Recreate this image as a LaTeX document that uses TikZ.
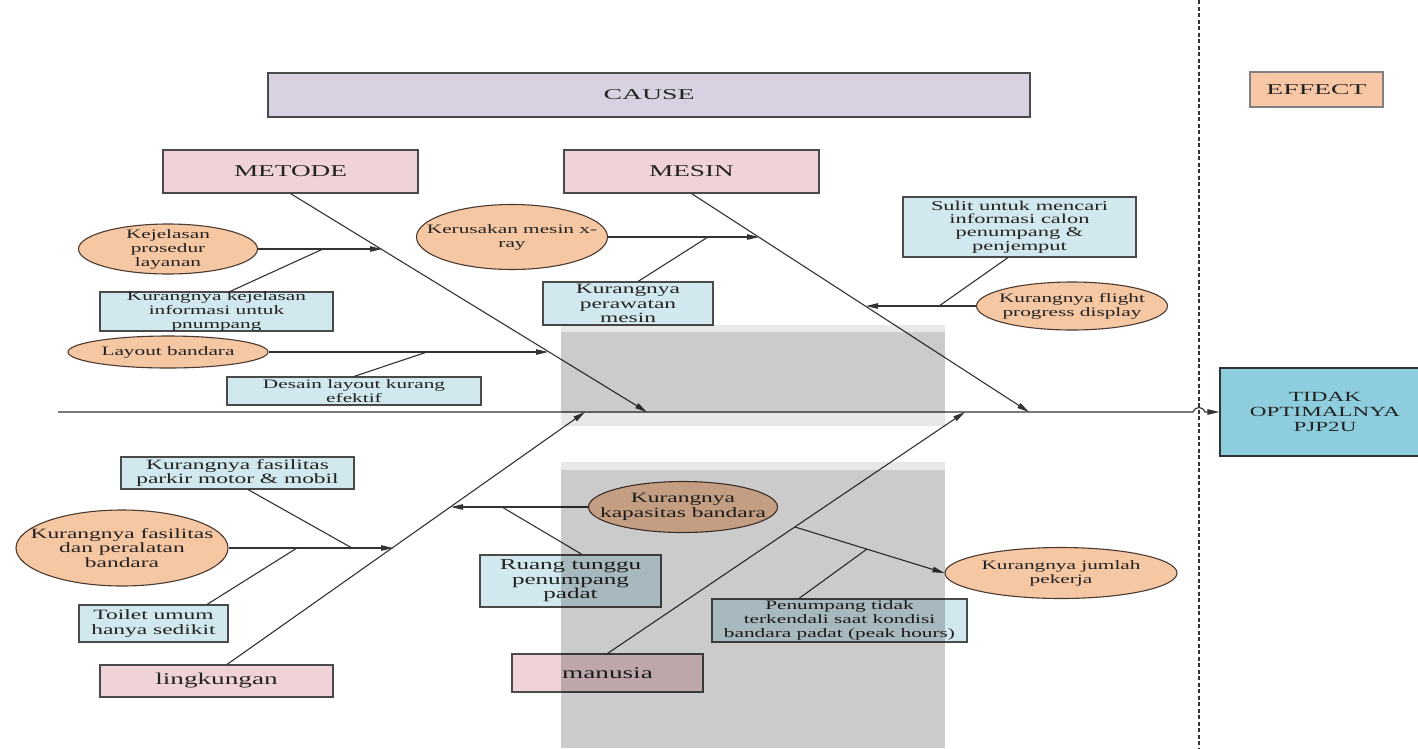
\documentclass[tikz,border=0pt]{standalone}
\usepackage{fontspec}
\usetikzlibrary{arrows.meta,shapes.geometric}
\newfontfamily\wf[FakeStretch=1.65]{Liberation Serif}
\newfontfamily\wfb[FakeStretch=1.85]{Liberation Serif}
\newcommand\fBig{\wf\fontsize{16.5}{19}\selectfont}
\newcommand\fHd{\wfb\fontsize{15}{17}\selectfont}
\newcommand\fS[2]{\wf\fontsize{#1}{#2}\selectfont}
\newcommand\fEf{\wf\fontsize{14}{14.6}\selectfont}
\definecolor{lav}{HTML}{D7D1E2}
\definecolor{pinkc}{HTML}{EFD3D7}
\definecolor{bluec}{HTML}{D2E8EF}
\definecolor{peach}{HTML}{F6C7A3}
\definecolor{effc}{HTML}{F8C8A6}
\definecolor{tidc}{HTML}{8ECDDD}
\definecolor{bord}{HTML}{4A4A4A}
\definecolor{ebord}{HTML}{4A3A30}
\definecolor{txtc}{HTML}{222222}
\definecolor{linec}{HTML}{333333}
\tikzset{
  shp/.style={draw=bord, line width=1.1pt, inner sep=0pt},
  cat/.style={shp, rectangle, fill=pinkc},
  bbox/.style={shp, rectangle, fill=bluec},
  ell/.style={shp, ellipse, draw=ebord, fill=peach},
  tx/.style={align=center, font=\fS{12.9}{14}, text=txtc, inner sep=0pt},
  txl/.style={tx, font=\fS{14.2}{14.6}},
  tb/.style={align=center, font=\fBig, text=txtc, inner sep=0pt},
  th/.style={align=center, font=\fHd, text=txtc, inner sep=0pt},
  te/.style={align=center, font=\fEf, text=txtc, inner sep=0pt},
  ln/.style={draw=linec, line width=1.1pt},
  arr/.style={ln, -{Triangle[length=12pt,width=5.5pt]}},
}
\begin{document}
\begin{tikzpicture}[x=1pt,y=-1pt]
\useasboundingbox (0,0) rectangle (1418,748);
\clip (0,0) rectangle (1418,748);
\fill[white] (0,0) rectangle (1418,748);

% dashed divider
\coordinate (dt) at (1199,0);
\coordinate (db) at (1199,748);
\draw[draw=linec, line width=1.4pt, dash pattern=on 4pt off 2.5pt] (dt) -- (db);

% headers
\node[shp, rectangle, fill=lav, minimum width=762, minimum height=44, label={[th]center:CAUSE}] (cause) at (649,95) {};
\node[shp, rectangle, draw=bord!70, fill=effc, minimum width=133, minimum height=35, label={[th]center:EFFECT}] (effect) at (1316.5,89.5) {};

% categories
\node[cat, minimum width=255, minimum height=43, label={[tb]center:METODE}] (metode) at (290.5,171.5) {};
\node[cat, minimum width=255, minimum height=43, label={[tb]center:MESIN}] (mesin) at (691.5,171.5) {};
\node[cat, minimum width=233, minimum height=32, label={[tb]center:lingkungan}] (ling) at (216.5,681) {};
\node[cat, minimum width=191, minimum height=38, label={[tb]center:manusia}] (manusia) at (607.5,673) {};

% effect box
\node[shp, rectangle, fill=tidc, draw=linec, minimum width=210, minimum height=88, label={[te]center:TIDAK\\OPTIMALNYA\\PJP2U}] (tidak) at (1325,412) {};

% spine tips
\coordinate (tMet) at (647,412);
\coordinate (tMes) at (1029,412);
\coordinate (tLin) at (585,412);
\coordinate (tMan) at (965,412);

% spine
\coordinate (sp0) at (58,412);
\coordinate (hopA) at (1193,412);
\coordinate (hopB) at (1205,412);
\draw[arr] (sp0) -- (hopA) .. controls (1195,406) and (1203,406) .. (hopB) -- (tidak.west);

% main bones
\draw[arr] (metode.south) -- (tMet);
\draw[arr] (mesin.south) -- (tMes);
\draw[arr] ([xshift=10.5pt]ling.north) -- (tLin);
\draw[arr] (manusia.north) -- (tMan);

% ---- METODE causes
\node[ell, minimum width=179, minimum height=50, label={[tx]center:Kejelasan\\prosedur\\layanan}] (kej) at (168,249) {};
\coordinate (a1) at (382,249);
\coordinate (a1b) at (323,249);
\draw[arr] (kej.east) -- (a1);
\node[bbox, minimum width=233, minimum height=39, label={[tx]center:Kurangnya kejelasan\\informasi untuk\\pnumpang}] (kk) at (216.5,311.5) {};
\draw[ln] ([xshift=13.5pt]kk.north) -- (a1b);

\node[ell, minimum width=200, minimum height=32, label={[tx]center:Layout bandara}] (lay) at (168,352) {};
\coordinate (a2) at (548,352);
\coordinate (a2b) at (427,352);
\draw[arr] (lay.east) -- (a2);
\node[bbox, minimum width=254, minimum height=28, label={[tx]center:Desain layout kurang\\efektif}] (des) at (354,391) {};
\draw[ln] (des.north) -- (a2b);

% ---- MESIN causes
\node[ell, minimum width=191, minimum height=65, label={[tx]center:Kerusakan mesin x-\\ray}] (ker) at (512,237) {};
\coordinate (a3) at (759,237);
\coordinate (a3b) at (708,237);
\draw[arr] (ker.east) -- (a3);
\node[bbox, minimum width=170, minimum height=43, label={[txl]center:Kurangnya\\perawatan\\mesin}] (kp) at (628,303.5) {};
\draw[ln] ([xshift=10pt]kp.north) -- (a3b);

\node[ell, minimum width=191, minimum height=48, label={[tx]center:Kurangnya flight\\progress display}] (fl) at (1072,306) {};
\coordinate (a4) at (866,306);
\coordinate (a4b) at (939,306);
\draw[arr] (fl.west) -- (a4);
\node[bbox, minimum width=233, minimum height=60, label={[tx,font=\fS{13.6}{13.4}]center:Sulit untuk mencari\\informasi calon\\penumpang \&\\penjemput}] (sul) at (1019.5,227) {};
\draw[ln] ([xshift=-11.5pt]sul.south) -- (a4b);

% ---- lingkungan causes
\node[ell, minimum width=212, minimum height=76, label={[txl]center:Kurangnya fasilitas\\dan peralatan\\bandara}] (fas) at (122,548) {};
\coordinate (a5) at (393,548);
\coordinate (a5b) at (352,548);
\coordinate (a5c) at (297,548);
\draw[arr] (fas.east) -- (a5);
\node[bbox, minimum width=233, minimum height=32, label={[txl]center:Kurangnya fasilitas\\parkir motor \& mobil}] (pk) at (237.5,473) {};
\draw[ln] ([xshift=10.5pt]pk.south) -- (a5b);
\node[bbox, minimum width=149, minimum height=37, label={[txl]center:Toilet umum\\hanya sedikit}] (toi) at (153.5,623.5) {};
\draw[ln] ([xshift=53.5pt]toi.north) -- (a5c);

\node[ell, minimum width=189, minimum height=51, label={[txl]center:Kurangnya\\kapasitas bandara}] (kap) at (683,507) {};
\coordinate (a6) at (451,507);
\coordinate (a6b) at (502,507);
\draw[arr] (kap.west) -- (a6);
\node[bbox, minimum width=181, minimum height=52, label={[tx,font=\fS{15.2}{14.6}]center:Ruang tunggu\\penumpang\\padat}] (rt) at (570.5,581) {};
\draw[ln] ([xshift=11.5pt]rt.north) -- (a6b);

% ---- manusia causes
\coordinate (m1) at (795,527);
\coordinate (m1b) at (867,549);
\node[ell, minimum width=232, minimum height=51, label={[tx]center:Kurangnya jumlah\\pekerja}] (pek) at (1061,573) {};
\draw[arr] (m1) -- (pek.west);
\node[bbox, minimum width=255, minimum height=43, label={[tx]center:Penumpang tidak\\terkendali saat kondisi\\bandara padat (peak hours)}] (pen) at (839.5,620.5) {};
\draw[ln] ([xshift=-40.5pt]pen.north) -- (m1b);

% gray overlays
\fill[black, opacity=0.09] (561,325) rectangle (945,426);
\fill[black, opacity=0.12] (561,332) rectangle (945,413);
\fill[black, opacity=0.09] (561,462) rectangle (945,748);
\fill[black, opacity=0.12] (561,470) rectangle (945,748);
\end{tikzpicture}
\end{document}
